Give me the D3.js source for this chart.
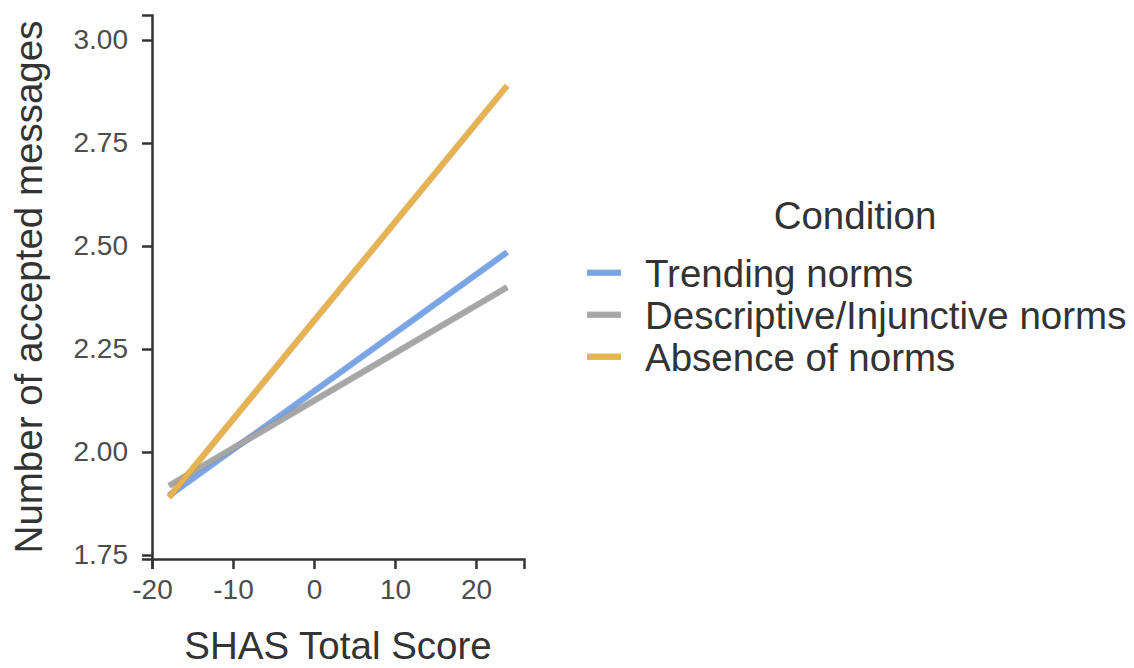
<!DOCTYPE html>
<html>
<head>
<meta charset="utf-8">
<script src="https://cdn.jsdelivr.net/npm/d3@7"></script>
<style>
  body { margin: 0; background: #fff; }
  text { font-family: "Liberation Sans", Arial, Helvetica, sans-serif; }
</style>
</head>
<body>
<div id="chart"></div>
<script>
// svg size
var width = 1134, height = 668;

// data (fitted regression lines)
var conditions = ["Trending norms", "Descriptive/Injunctive norms", "Absence of norms"];
var colors = ["#78a5e8", "#a6a6a6", "#e8b24e"];
var shasRange = [-17.9, 23.85];          // x at start / end of each line
var trending = [1.894, 2.485];
var descriptive = [1.918, 2.400];
var absence = [1.890, 2.889];
var xTicks = [-20, -10, 0, 10, 20];
var yTicks = [1.75, 2.00, 2.25, 2.50, 2.75, 3.00];

var series = [trending, descriptive, absence];

// plot box
var plotLeft = 152, plotRight = 524, plotTop = 15, plotBottom = 559;

var x = d3.scaleLinear().domain([-20, 25.93]).range([plotLeft, plotRight]);
var y = d3.scaleLinear().domain([1.7403, 3.0607]).range([plotBottom, plotTop]);

var svg = d3.select("#chart")
            .append("svg")
            .attr("width", width)
            .attr("height", height);

// lines
var line = d3.line()
             .x(function(d){ return x(d[0]); })
             .y(function(d){ return y(d[1]); });

var lineData = series.map(function(s, i){
    return { i: i, pts: [[shasRange[0], s[0]], [shasRange[1], s[1]]] };
});

var lines = svg.append("g").attr("class", "lines");

// draw in order: trending, descriptive, absence (absence on top)
lineData.forEach(function(d){
    lines.append("path")
        .attr("d", line(d.pts))
        .attr("fill", "none")
        .attr("stroke", d3.color(colors[d.i]).darker(0.6))
        .attr("stroke-opacity", 0.6)
        .attr("stroke-width", 6.5);
    lines.append("path")
        .attr("d", line(d.pts))
        .attr("fill", "none")
        .attr("stroke", colors[d.i])
        .attr("stroke-width", 5);
});

// axes
var xAxis = d3.axisBottom(x).tickValues(xTicks).tickSize(10).tickPadding(10)
              .tickFormat(d3.format("d"));
var yAxis = d3.axisLeft(y).tickValues(yTicks).tickSize(10).tickPadding(14)
              .tickFormat(d3.format(".2f"));

var gx = svg.append("g")
            .attr("transform", "translate(0," + plotBottom + ")")
            .call(xAxis);
var gy = svg.append("g")
            .attr("transform", "translate(" + plotLeft + ",0)")
            .call(yAxis);

[gx, gy].forEach(function(g){
    g.select(".domain").attr("stroke", "#333").attr("stroke-width", 2.5);
    g.selectAll(".tick line").attr("stroke", "#333").attr("stroke-width", 2.5);
    g.selectAll(".tick text")
        .attr("fill", "#4d4d4d")
        .style("font-size", "28px")
        .style("font-family", "'Liberation Sans', Arial, sans-serif");
});
gx.selectAll(".tick text").text(function(d){ return d < 0 ? "-" + Math.abs(d) : d; });

// axis titles
svg.append("text")
    .attr("x", (plotLeft + plotRight) / 2)
    .attr("y", 659)
    .attr("text-anchor", "middle")
    .attr("fill", "#333")
    .style("font-size", "38.5px")
    .text("SHAS Total Score");

svg.append("text")
    .attr("transform", "translate(42," + ((plotTop + plotBottom) / 2) + ") rotate(-90)")
    .attr("text-anchor", "middle")
    .attr("fill", "#333")
    .style("font-size", "38.5px")
    .text("Number of accepted messages");

// legend
var legend = svg.append("g").attr("class", "legend");

legend.append("text")
    .attr("x", 855)
    .attr("y", 229)
    .attr("text-anchor", "middle")
    .attr("fill", "#333")
    .style("font-size", "38.5px")
    .text("Condition");

var items = legend.selectAll(".item")
    .data(conditions)
    .enter()
        .append("g")
        .attr("class", "item")
        .attr("transform", function(d, i){ return "translate(0," + (272.7 + i * 42) + ")"; });

items.append("line")
    .attr("x1", 587).attr("x2", 621)
    .attr("stroke", function(d, i){ return d3.color(colors[i]).darker(0.6); })
    .attr("stroke-opacity", 0.6)
    .attr("stroke-width", 6.5);
items.append("line")
    .attr("x1", 587).attr("x2", 621)
    .attr("stroke", function(d, i){ return colors[i]; })
    .attr("stroke-width", 5);

items.append("text")
    .attr("x", 645)
    .attr("y", 14)
    .attr("fill", "#333")
    .style("font-size", "38.5px")
    .text(function(d){ return d; });
</script>
</body>
</html>
